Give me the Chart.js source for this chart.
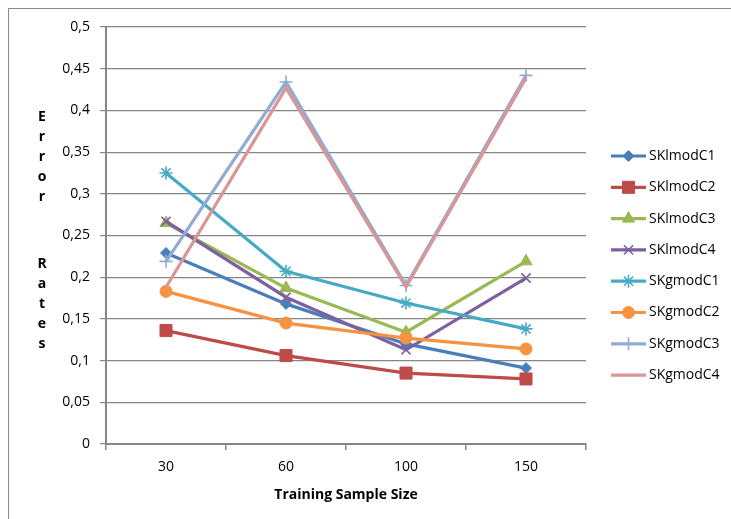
<!DOCTYPE html>
<html>
<head>
<meta charset="utf-8">
<script src="https://cdn.jsdelivr.net/npm/chart.js@4/dist/chart.umd.min.js"></script>
<style>
  html, body { margin: 0; padding: 0; background: #fff; }
  #wrap { position: relative; width: 731px; height: 519px; overflow: hidden; }
  #frame { position: absolute; left: 8px; top: 8px; width: 760px; height: 560px; border: 1px solid #8c8c8c; }
  canvas { position: absolute; left: 0; top: 0; }
</style>
</head>
<body>
<div id="wrap">
  <div id="frame"></div>
  <canvas id="errChart" width="731" height="519"></canvas>
</div>
<script>
// --- data ---
const categories = ['30', '60', '100', '150'];
const seriesNames = ['SKlmodC1', 'SKlmodC2', 'SKlmodC3', 'SKlmodC4',
                     'SKgmodC1', 'SKgmodC2', 'SKgmodC3', 'SKgmodC4'];
const SKlmodC1 = [0.229, 0.168, 0.120, 0.091];
const SKlmodC2 = [0.136, 0.106, 0.085, 0.078];
const SKlmodC3 = [0.265, 0.187, 0.134, 0.219];
const SKlmodC4 = [0.267, 0.176, 0.113, 0.199];
const SKgmodC1 = [0.325, 0.207, 0.169, 0.138];
const SKgmodC2 = [0.183, 0.145, 0.127, 0.114];
const SKgmodC3 = [0.219, 0.434, 0.190, 0.442];
const SKgmodC4 = [0.188, 0.427, 0.188, 0.439];
const yTickLabels = ['0', '0,05', '0,1', '0,15', '0,2', '0,25', '0,3', '0,35', '0,4', '0,45', '0,5'];

// --- look of each series (Excel style) ---
const styles = [
  { color: '#4A7EBB', point: 'rectRot',  radius: 5.5 },
  { color: '#BE4B48', point: 'rect',     radius: 8.5 },
  { color: '#98B954', point: 'triangle', radius: 7 },
  { color: '#7D60A0', point: 'crossRot', radius: 6.5 },
  { color: '#46AAC5', point: 'star',     radius: 6.5 },
  { color: '#F69240', point: 'circle',   radius: 6 },
  { color: '#91ABD4', point: 'cross',    radius: 6.5 },
  { color: '#D99694', point: false,      radius: 0 }
];
const seriesValues = [SKlmodC1, SKlmodC2, SKlmodC3, SKlmodC4, SKgmodC1, SKgmodC2, SKgmodC3, SKgmodC4];

const datasets = seriesNames.map((name, i) => ({
  label: name,
  data: seriesValues[i],
  borderColor: styles[i].color,
  backgroundColor: styles[i].color,
  borderWidth: 3.2,
  pointStyle: styles[i].point,
  pointRadius: styles[i].radius,
  pointBorderWidth: ['crossRot', 'star', 'cross'].includes(styles[i].point) ? 1.6 : 1,
  tension: 0,
  order: seriesNames.length - i // later series drawn on top, like Excel
}));

// stacked vertical axis title "Error Rates"
const stackedTitle = {
  id: 'stackedTitle',
  afterDraw(chart) {
    const ctx = chart.ctx;
    ctx.save();
    ctx.font = 'bold 14px "Open Sans"';
    ctx.fillStyle = '#000';
    ctx.textAlign = 'center';
    ctx.textBaseline = 'middle';
    'Error'.split('').forEach((ch, i) => ctx.fillText(ch, 42, 117 + i * 20));
    'Rates'.split('').forEach((ch, i) => ctx.fillText(ch, 42, 264 + i * 20));
    ctx.restore();
  }
};

// legend with line + marker, like the Excel one
const lineLegend = {
  id: 'lineLegend',
  afterDraw(chart) {
    const ctx = chart.ctx;
    ctx.save();
    chart.data.datasets.forEach((ds, i) => {
      const y = 156 + i * 31.3;
      ctx.strokeStyle = ds.borderColor;
      ctx.fillStyle = ds.backgroundColor;
      ctx.lineWidth = 3.2;
      ctx.beginPath();
      ctx.moveTo(611, y);
      ctx.lineTo(646, y);
      ctx.stroke();
      if (ds.pointStyle) {
        ctx.lineWidth = ds.pointBorderWidth;
        Chart.helpers.drawPoint(ctx, {
          pointStyle: ds.pointStyle,
          radius: ds.pointRadius,
          rotation: 0,
          borderWidth: ds.pointBorderWidth
        }, 628.5, y);
      }
      ctx.fillStyle = '#000';
      ctx.font = '14px "Open Sans"';
      ctx.textAlign = 'left';
      ctx.textBaseline = 'middle';
      ctx.fillText(ds.label, 649, y);
    });
    ctx.restore();
  }
};

new Chart(document.getElementById('errChart'), {
  type: 'line',
  data: { labels: categories, datasets: datasets },
  options: {
    responsive: false,
    animation: false,
    layout: { padding: { top: 27, right: 145, left: 0, bottom: 0 } },
    plugins: {
      legend: { display: false },
      tooltip: { enabled: false }
    },
    scales: {
      x: {
        offset: true,
        afterFit: scale => { scale.height = 75; },
        grid: { offset: true, drawOnChartArea: false, drawTicks: true, tickLength: 6, color: '#868686', lineWidth: 1.5 },
        border: { color: '#868686', width: 2 },
        ticks: { color: '#000', font: { family: 'Open Sans', size: 14 }, padding: 9 },
        title: {
          display: true,
          text: 'Training Sample Size',
          color: '#000',
          font: { family: 'Open Sans', size: 14, weight: 'bold' },
          padding: { top: 4, bottom: 16 }
        }
      },
      y: {
        min: 0,
        max: 0.5,
        afterFit: scale => { scale.width = 106; },
        grid: { color: '#868686', lineWidth: 1.2, drawTicks: true, tickLength: 6 },
        border: { color: '#868686', width: 2 },
        ticks: {
          stepSize: 0.05,
          color: '#000',
          font: { family: 'Open Sans', size: 14 },
          padding: 10,
          callback: (value, index) => yTickLabels[index]
        }
      }
    }
  },
  plugins: [stackedTitle, lineLegend]
});
</script>
</body>
</html>
